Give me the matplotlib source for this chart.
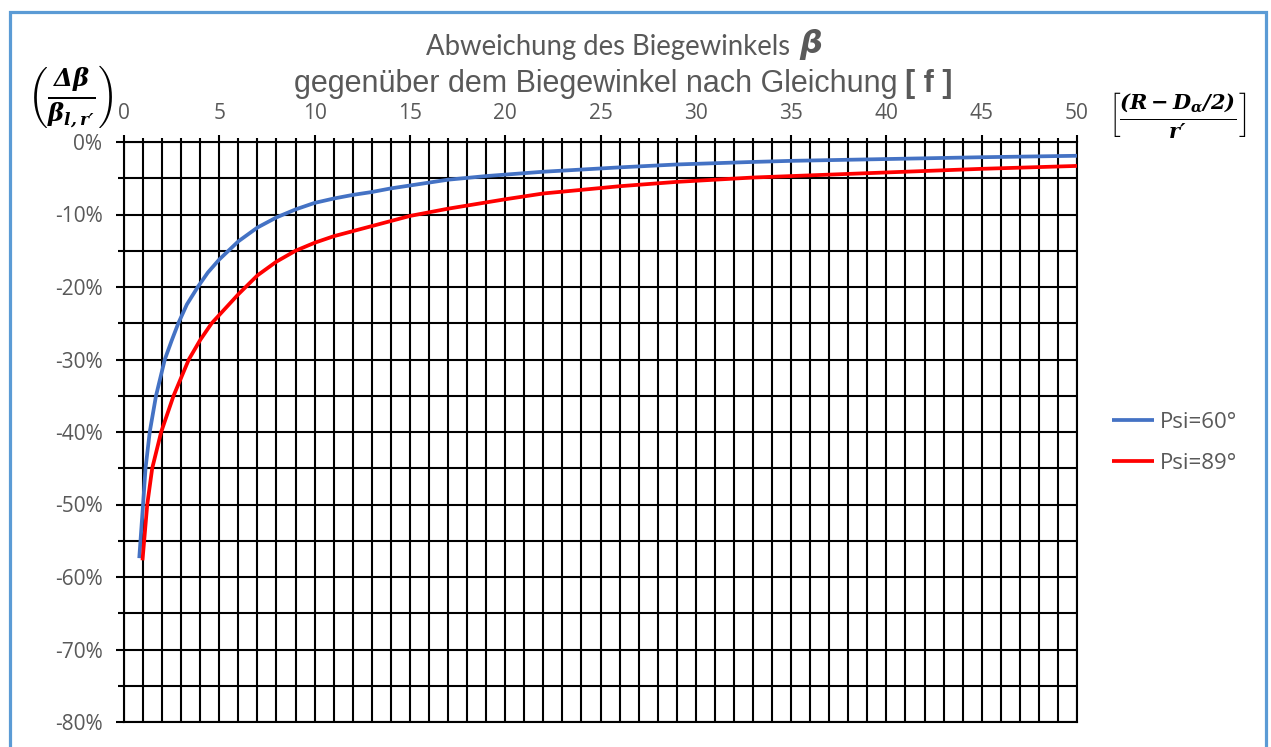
import matplotlib
matplotlib.use("Agg")
import matplotlib.pyplot as plt
from matplotlib.ticker import MultipleLocator, FuncFormatter
from matplotlib.patches import Rectangle

# ---- data ----
psi60_x = [0.8, 1.0, 1.13, 1.35, 1.68, 2.14, 2.5, 2.85, 3.3, 3.87, 4.4, 5, 6, 7, 8, 9, 10,
           11, 12, 13, 14, 17, 19, 22, 26, 29, 33, 35, 40, 45, 50]
psi60_y = [-57.4, -50, -45, -40, -35, -30, -27.4, -25, -22.4, -20, -18, -16.2, -13.7, -11.8,
           -10.4, -9.3, -8.4, -7.8, -7.3, -6.9, -6.4, -5.2, -4.7, -4.1, -3.5, -3.1, -2.75,
           -2.6, -2.35, -2.1, -1.9]
psi89_x = [0.97, 1.22, 1.48, 1.95, 2.6, 3.4, 4.0, 4.6, 5.3, 6, 7, 8, 9, 10, 11, 12, 13, 14, 15,
           17, 20, 22, 26, 29, 33, 35, 40, 45, 50]
psi89_y = [-57.7, -50, -45, -40, -35, -30, -27.3, -25, -23.0, -21.0, -18.4, -16.5, -15.0,
           -13.9, -13.0, -12.3, -11.6, -10.9, -10.2, -9.2, -7.9, -7.1, -6.1, -5.5, -4.9,
           -4.7, -4.2, -3.7, -3.3]
series_labels = ["Psi=60°", "Psi=89°"]
series_colors = ["#4472C4", "#FF0000"]

title_line1 = "Abweichung des Biegewinkels"
title_line2 = "gegenüber dem Biegewinkel nach Gleichung"

plt.rcParams["mathtext.fontset"] = "custom"
plt.rcParams["mathtext.bf"] = "DejaVu Serif:italic:bold"
plt.rcParams["mathtext.rm"] = "DejaVu Serif"
plt.rcParams["mathtext.it"] = "DejaVu Serif:italic"

W, H = 1271, 747
fig = plt.figure(figsize=(W / 100, H / 100), dpi=100)
ax = fig.add_axes([124 / W, 1 - 722 / H, (1077 - 124) / W, (722 - 142) / H])

ax.plot(psi60_x, psi60_y, color=series_colors[0], lw=2.7, label=series_labels[0],
        solid_capstyle="butt", solid_joinstyle="round", zorder=3)
ax.plot(psi89_x, psi89_y, color=series_colors[1], lw=2.7, label=series_labels[1],
        solid_capstyle="butt", solid_joinstyle="round", zorder=3)

ax.set_xlim(0, 50)
ax.set_ylim(-80, 0)
ax.xaxis.set_major_locator(MultipleLocator(5))
ax.xaxis.set_minor_locator(MultipleLocator(1))
ax.yaxis.set_major_locator(MultipleLocator(10))
ax.yaxis.set_minor_locator(MultipleLocator(5))
ax.yaxis.set_major_formatter(FuncFormatter(lambda v, p: f"{v:.0f}%"))
ax.xaxis.tick_top()

gw = 1.5
ax.grid(True, which="both", color="black", lw=gw)
ax.set_axisbelow(True)
for s in ax.spines.values():
    s.set_color("black")
    s.set_linewidth(gw)

tick_color = "#595959"
ax.tick_params(axis="x", which="major", length=5, width=gw, pad=8,
               labelsize=15, labelcolor=tick_color, color="black")
ax.tick_params(axis="x", which="minor", length=3, width=gw, color="black")
ax.tick_params(axis="y", which="major", length=5.5, width=gw, pad=10,
               labelsize=15, labelcolor=tick_color, color="black")
ax.tick_params(axis="y", which="minor", length=4.3, width=gw, color="black")
for lab in ax.get_xticklabels() + ax.get_yticklabels():
    lab.set_fontfamily("Open Sans")

# titles
fig.text(790 / W, 1 - 47 / H, title_line1, ha="right", va="center",
         fontsize=19.8, color=tick_color, family="Lato")
fig.text(799 / W, 1 - 45 / H, r"$\boldsymbol{\beta}$", ha="left", va="center",
         fontsize=23, color=tick_color)
fig.text(898 / W, 1 - 84 / H, title_line2, ha="right", va="center",
         fontsize=22, color=tick_color, family="Liberation Sans")
fig.text(905 / W, 1 - 84 / H, "[ f ]", ha="left", va="center",
         fontsize=22, color=tick_color, family="Liberation Sans", weight="bold")

fig.text(70 / W, 1 - 97 / H,
         r"$\left(\frac{\mathbf{\Delta\beta}}{\mathbf{\beta_{l,r\prime}}}\right)$",
         ha="center", va="center", fontsize=25, color="black")
fig.text(1177 / W, 1 - 115 / H,
         r"$\left[\frac{\mathbf{(R-D_{\alpha}/2)}}{\mathbf{r\prime}}\right]$",
         ha="center", va="center", fontsize=21.5, color="black")

leg = fig.legend(loc="center left", bbox_to_anchor=(1092 / W, 1 - 443 / H),
                 frameon=False, handlelength=1.9, handletextpad=0.25,
                 labelspacing=0.9, prop={"family": "Open Sans", "size": 16})
for t in leg.get_texts():
    t.set_color(tick_color)

# outer border
fig.patches.append(Rectangle((9.5 / W, -0.05), (1266 - 9.5) / W, 1.05 - 12 / H,
                             transform=fig.transFigure, fill=False,
                             edgecolor="#5B9BD5", lw=2.3, clip_on=False))

fig.savefig("out.png", dpi=100)
